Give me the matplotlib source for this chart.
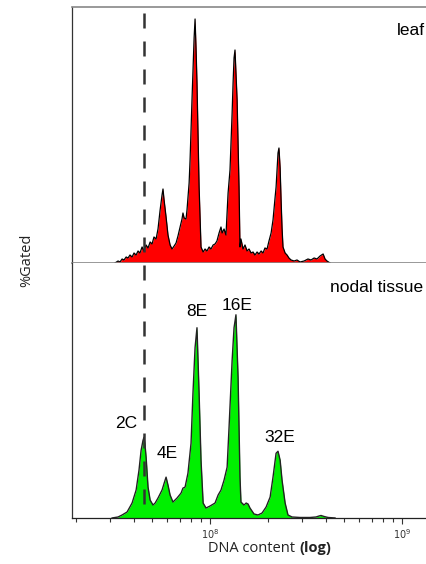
import matplotlib
matplotlib.use("Agg")
import matplotlib.pyplot as plt
import numpy as np
from matplotlib.lines import Line2D
from matplotlib.ticker import LogLocator, NullFormatter
from matplotlib.transforms import blended_transform_factory

# Flow cytometry histograms, x = log10(DNA content), y = events (arbitrary units)
leaf_log = [7.505, 7.521, 7.531, 7.542, 7.552, 7.563, 7.573, 7.583, 7.594, 7.604,
            7.615, 7.625, 7.635, 7.646, 7.656, 7.667, 7.677, 7.688, 7.698, 7.708,
            7.719, 7.729, 7.740, 7.750, 7.755, 7.760, 7.771, 7.781, 7.792, 7.802,
            7.813, 7.823, 7.833, 7.844, 7.854, 7.859, 7.865, 7.875, 7.880, 7.891,
            7.896, 7.906, 7.917, 7.922, 7.927, 7.932, 7.943, 7.953, 7.964, 7.974,
            7.984, 7.995, 8.005, 8.016, 8.026, 8.036, 8.047, 8.057, 8.063, 8.073,
            8.083, 8.094, 8.104, 8.115, 8.120, 8.125, 8.130, 8.135, 8.141, 8.151,
            8.156, 8.161, 8.172, 8.182, 8.193, 8.203, 8.214, 8.224, 8.234, 8.245,
            8.255, 8.266, 8.276, 8.286, 8.297, 8.307, 8.318, 8.328, 8.339, 8.344,
            8.354, 8.359, 8.365, 8.370, 8.375, 8.380, 8.391, 8.401, 8.411, 8.422,
            8.438, 8.453, 8.469, 8.490, 8.510, 8.526, 8.542, 8.557, 8.573, 8.589,
            8.599, 8.609, 8.625]
leaf_counts = [0, 2, 1, 4, 3, 6, 5, 8, 6, 10,
               8, 12, 10, 16, 12, 18, 15, 21, 19, 26,
               24, 34, 53, 68, 74, 64, 46, 28, 18, 14,
               17, 20, 27, 36, 44, 50, 45, 44, 53, 80,
               103, 163, 225, 244, 215, 180, 76, 16, 11, 14,
               12, 16, 14, 18, 19, 22, 30, 36, 30, 34,
               28, 70, 93, 150, 180, 205, 213, 190, 163, 76,
               16, 24, 14, 18, 12, 14, 10, 11, 8, 11,
               9, 12, 10, 15, 14, 22, 30, 43, 66, 76,
               110, 115, 95, 63, 35, 16, 10, 8, 5, 3,
               2, 3, 1, 2, 4, 3, 5, 4, 7, 9,
               4, 2, 0]

nodal_log = [7.490, 7.521, 7.542, 7.568, 7.594, 7.615, 7.630, 7.641, 7.651, 7.656,
             7.661, 7.667, 7.677, 7.688, 7.703, 7.714, 7.729, 7.750, 7.766, 7.771,
             7.781, 7.792, 7.807, 7.828, 7.849, 7.859, 7.870, 7.885, 7.901, 7.911,
             7.922, 7.932, 7.943, 7.953, 7.964, 7.979, 8.000, 8.026, 8.042, 8.057,
             8.073, 8.089, 8.099, 8.115, 8.125, 8.135, 8.146, 8.156, 8.161, 8.177,
             8.188, 8.198, 8.208, 8.229, 8.250, 8.271, 8.292, 8.313, 8.328, 8.344,
             8.354, 8.365, 8.375, 8.391, 8.406, 8.427, 8.469, 8.521, 8.552, 8.568,
             8.578, 8.594, 8.615, 8.651]
nodal_counts = [0, 1, 3, 6, 15, 28, 48, 68, 78, 81,
                74, 61, 31, 18, 13, 15, 20, 28, 38, 41,
                33, 23, 16, 20, 25, 30, 31, 45, 75, 125,
                171, 191, 125, 58, 15, 10, 12, 15, 23, 28,
                38, 51, 91, 158, 191, 204, 141, 41, 16, 13,
                15, 14, 10, 4, 3, 5, 11, 21, 41, 65,
                67, 58, 38, 15, 3, 1, 0.5, 0.5, 1, 2,
                2.5, 1.5, 0.5, 0]

# ploidy labels: text, log10 position, height
peak_names = ["2C", "4E", "8E", "16E", "32E"]
peak_log = [7.561, 7.776, 7.932, 8.141, 8.365]
peak_y = [94.5, 64.5, 207.5, 213.5, 80.5]

diploid_log = 7.656
x_range = (10 ** 7.281, 10 ** 9.130)

fig = plt.figure(figsize=(4.27, 5.64), dpi=100)
ax_top = fig.add_axes([0.1686, 0.5337, 0.8314, 0.4539])
ax_bot = fig.add_axes([0.1686, 0.0816, 0.8314, 0.4521])

ax_top.fill_between(10 ** np.array(leaf_log), leaf_counts, color="#ff0000", lw=0)
ax_top.plot(10 ** np.array(leaf_log), leaf_counts, color="black", lw=0.9)
ax_bot.fill_between(10 ** np.array(nodal_log), nodal_counts, color="#00f000", lw=0)
ax_bot.plot(10 ** np.array(nodal_log), nodal_counts, color="#222222", lw=1.0)

for ax in (ax_top, ax_bot):
    ax.set_xscale("log")
    ax.set_xlim(*x_range)
    ax.set_ylim(0, 256)
    ax.set_yticks([])
    ax.spines["right"].set_visible(False)
    ax.spines["left"].set_color("#333333")
    ax.spines["left"].set_linewidth(0.9)

ax_top.spines["top"].set_color("#888888")
ax_top.spines["top"].set_linewidth(1.2)
ax_top.spines["bottom"].set_color("#888888")
ax_top.spines["bottom"].set_linewidth(1.2)
ax_top.tick_params(axis="x", which="both", bottom=False, labelbottom=False)

ax_bot.spines["top"].set_visible(False)
ax_bot.spines["bottom"].set_color("#222222")
ax_bot.spines["bottom"].set_linewidth(0.9)
ax_bot.xaxis.set_major_locator(LogLocator(base=10))
ax_bot.xaxis.set_minor_locator(LogLocator(base=10, subs=np.arange(2, 10)))
ax_bot.xaxis.set_minor_formatter(NullFormatter())
ax_bot.tick_params(axis="x", which="major", length=4, width=0.8, color="#333333",
                   labelsize=7, labelcolor="#333333", pad=3)
ax_bot.tick_params(axis="x", which="minor", length=3, width=0.8, color="#333333")

ax_top.text(0.995, 0.91, "leaf", transform=ax_top.transAxes, ha="right", va="center",
            fontsize=12.5, family="Liberation Sans")
ax_bot.text(0.99, 0.905, "nodal tissue", transform=ax_bot.transAxes, ha="right",
            va="center", fontsize=12.5, family="Liberation Sans")

for name, lx, ly in zip(peak_names, peak_log, peak_y):
    ax_bot.text(10 ** lx, ly, name, ha="center", va="center", fontsize=12.5,
                family="Liberation Sans")

# dashed 2C reference line running through both panels
trans = blended_transform_factory(ax_bot.transData, fig.transFigure)
fig.add_artist(Line2D([10 ** diploid_log] * 2, [0.977, 0.085], transform=trans,
                      color="#333333", lw=1.8, linestyle=(0, (6, 5.2))))

fig.text(0.063, 0.538, "%Gated", rotation=90, ha="center", va="center",
         fontsize=10.5, family="Open Sans", color="#222222")

# x label: plain part + bold "(log)" placed right after it
lab1 = fig.text(0.487, 0.021, "DNA content", ha="left", va="baseline", fontsize=10.5,
                family="Open Sans", color="#222222")
fig.canvas.draw()
bb = lab1.get_window_extent(fig.canvas.get_renderer())
fig.text((bb.x1 + 4) / fig.bbox.width, 0.021, "(log)", ha="left", va="baseline",
         fontsize=10.5, family="Open Sans", fontweight="bold", color="#222222")

fig.savefig("out.png", dpi=100)
